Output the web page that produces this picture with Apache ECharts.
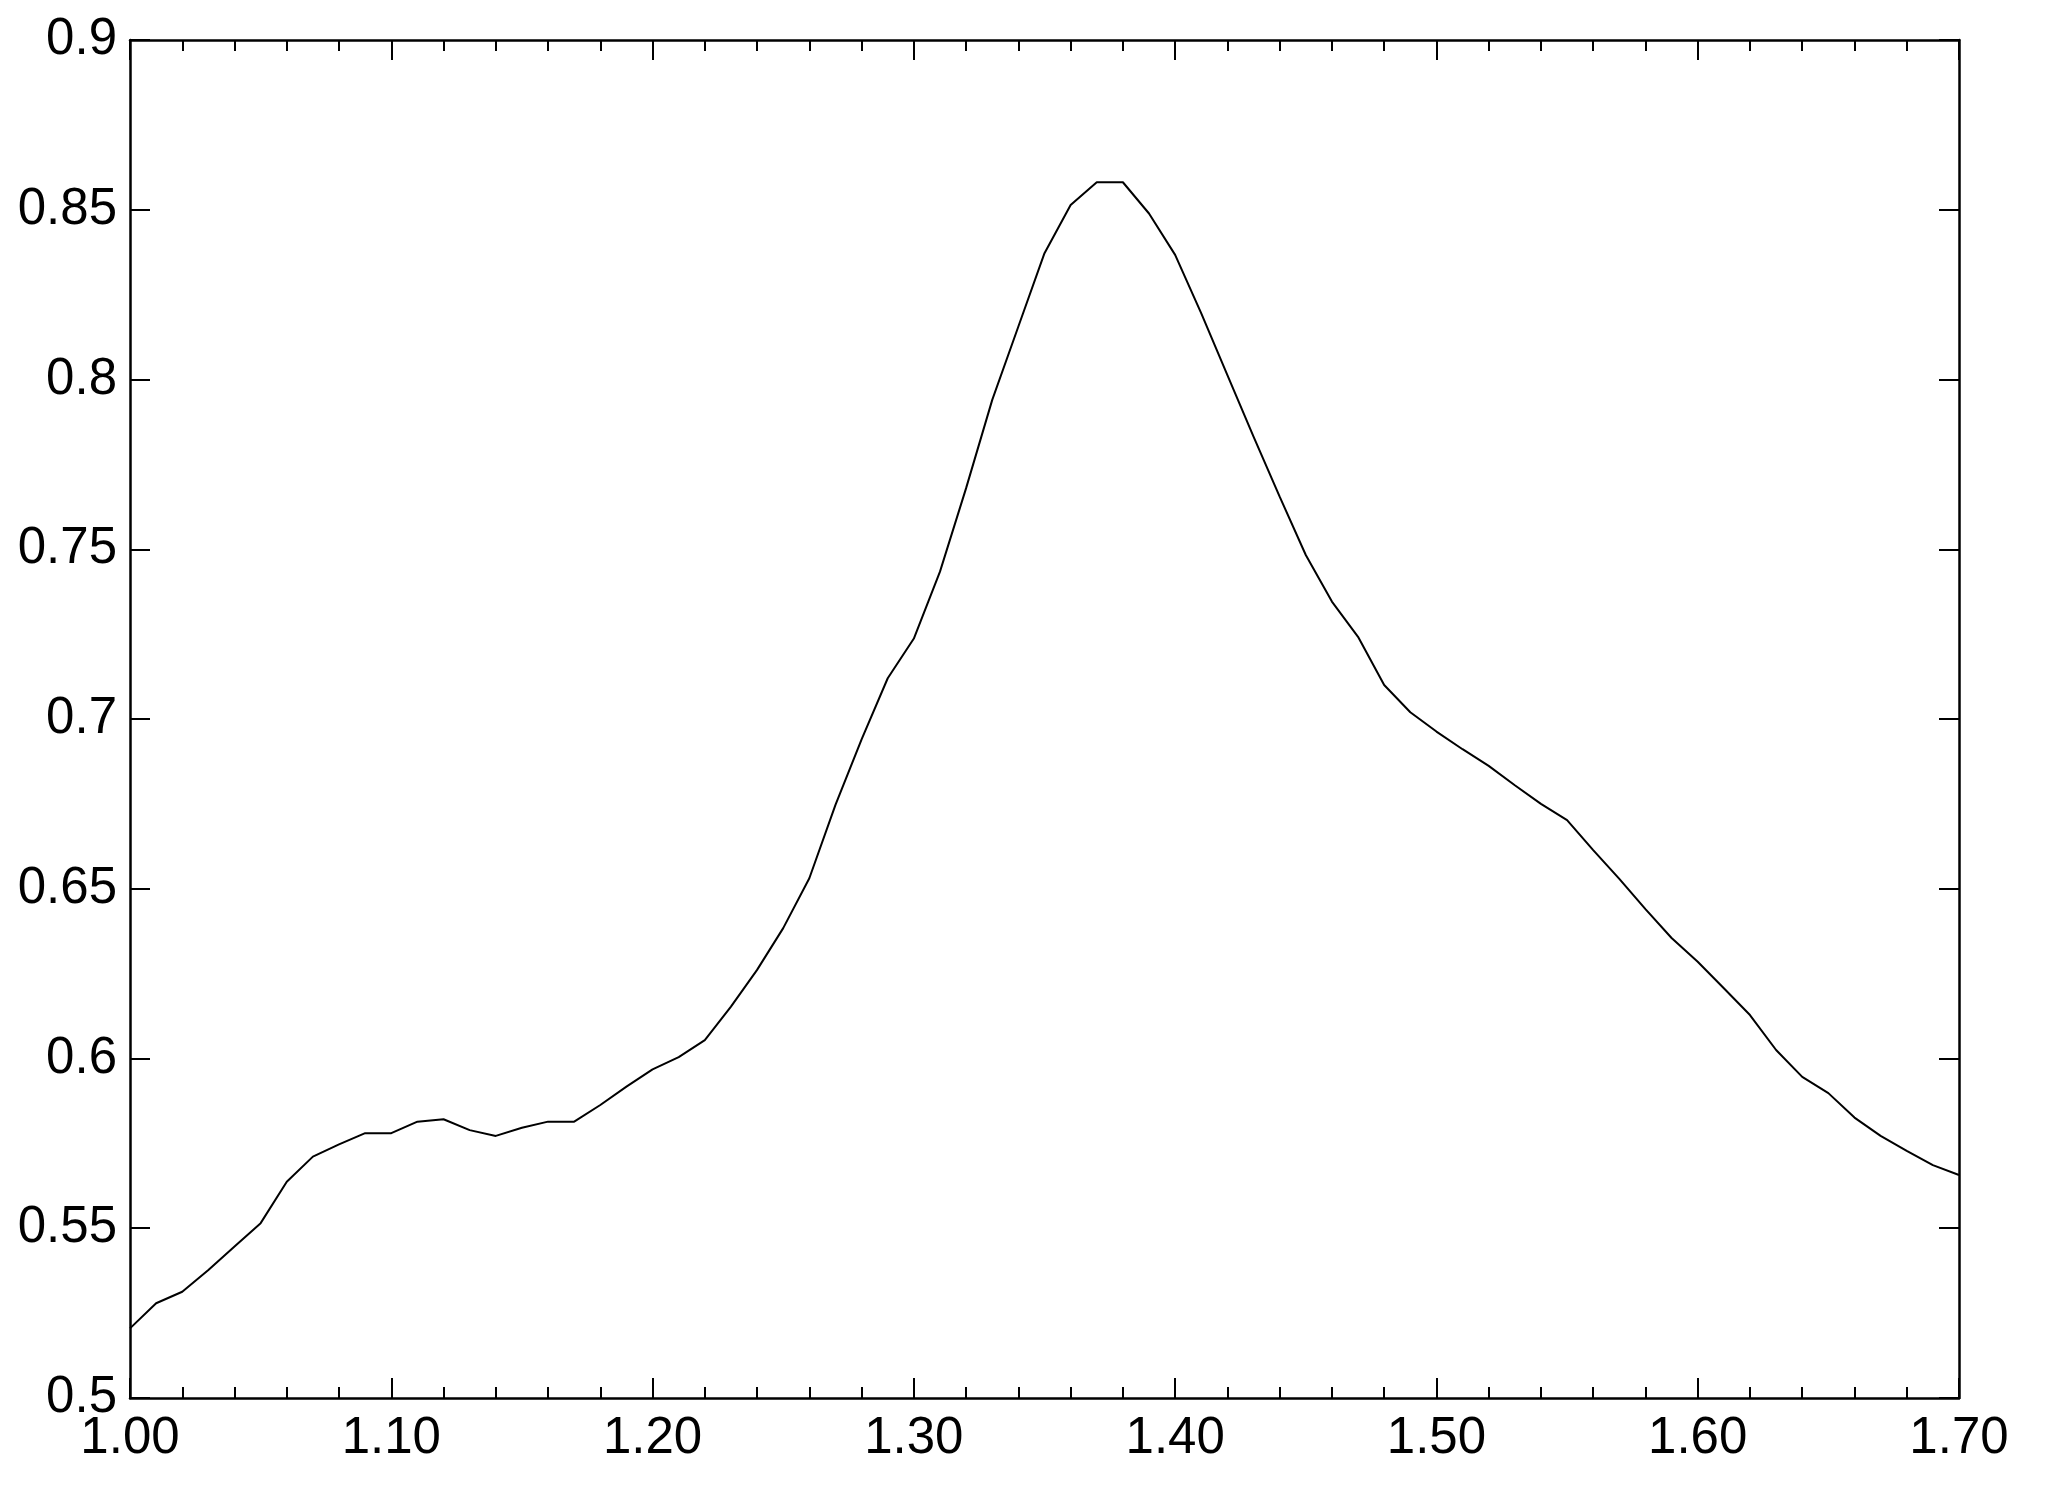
<!DOCTYPE html>
<html>
<head>
<meta charset="utf-8">
<title>Curve</title>
<script src="https://cdn.jsdelivr.net/npm/echarts@6/dist/echarts.min.js"></script>
<style>
  html, body { margin: 0; padding: 0; background: #fff; }
  #chart { width: 2046px; height: 1492px; }
</style>
</head>
<body>
<div id="chart"></div>
<script>
// x positions (step 0.01)
const xValues = [
  1.00, 1.01, 1.02, 1.03, 1.04, 1.05, 1.06, 1.07, 1.08, 1.09,
  1.10, 1.11, 1.12, 1.13, 1.14, 1.15, 1.16, 1.17, 1.18, 1.19,
  1.20, 1.21, 1.22, 1.23, 1.24, 1.25, 1.26, 1.27, 1.28, 1.29,
  1.30, 1.31, 1.32, 1.33, 1.34, 1.35, 1.36, 1.37, 1.38, 1.39,
  1.40, 1.41, 1.42, 1.43, 1.44, 1.45, 1.46, 1.47, 1.48, 1.49,
  1.50, 1.51, 1.52, 1.53, 1.54, 1.55, 1.56, 1.57, 1.58, 1.59,
  1.60, 1.61, 1.62, 1.63, 1.64, 1.65, 1.66, 1.67, 1.68, 1.69,
  1.70
];

const yValues = [
  0.5205, 0.5279, 0.5313, 0.5377, 0.5446, 0.5515, 0.5637, 0.5711, 0.5747, 0.5780,
  0.5780, 0.5814, 0.5821, 0.5789, 0.5772, 0.5796, 0.5814, 0.5814, 0.5863, 0.5917,
  0.5968, 0.6004, 0.6054, 0.6153, 0.6261, 0.6384, 0.6531, 0.6747, 0.6940, 0.7120,
  0.7237, 0.7434, 0.7680, 0.7940, 0.8156, 0.8372, 0.8514, 0.8581, 0.8581, 0.8489,
  0.8367, 0.8195, 0.8013, 0.7832, 0.7655, 0.7483, 0.7346, 0.7242, 0.7100, 0.7020,
  0.6963, 0.6911, 0.6862, 0.6805, 0.6750, 0.6702, 0.6614, 0.6529, 0.6440, 0.6355,
  0.6285, 0.6207, 0.6128, 0.6025, 0.5946, 0.5898, 0.5826, 0.5772, 0.5728, 0.5686,
  0.5657
];

const xMin = 1.0, xMax = 1.7, xStep = 0.1;
const yMin = 0.5, yMax = 0.9, yStep = 0.05;

let chartDom = document.getElementById('chart');
let myChart = echarts.init(chartDom);

const axisLine = { show: true, onZero: false, lineStyle: { color: '#000', width: 2.5 } };
const labelFont = { color: '#000', fontFamily: 'Liberation Sans, Arial, sans-serif', fontSize: 51 };

function xAxisCfg(pos, withLabels) {
  return {
    type: 'value',
    position: pos,
    min: xMin,
    max: xMax,
    interval: xStep,
    axisLine: axisLine,
    axisTick: { show: true, inside: true, length: 20, lineStyle: { color: '#000', width: 2 } },
    minorTick: { show: true, splitNumber: 5, length: 11, lineStyle: { color: '#000', width: 2 } },
    axisLabel: Object.assign({
      show: withLabels,
      margin: 15,
      formatter: function (v) { return v.toFixed(2); }
    }, labelFont),
    splitLine: { show: false },
    minorSplitLine: { show: false }
  };
}

function yAxisCfg(pos, withLabels) {
  return {
    type: 'value',
    position: pos,
    min: yMin,
    max: yMax,
    interval: yStep,
    axisLine: axisLine,
    axisTick: { show: true, inside: true, length: 20, lineStyle: { color: '#000', width: 2 } },
    axisLabel: Object.assign({ show: withLabels, margin: 13 }, labelFont),
    splitLine: { show: false }
  };
}

let option = {
  backgroundColor: '#fff',
  animation: false,
  grid: { left: 130, right: 87, top: 40, bottom: 94 },
  xAxis: [xAxisCfg('bottom', true), xAxisCfg('top', false)],
  yAxis: [yAxisCfg('left', true), yAxisCfg('right', false)],
  series: [
    {
      type: 'line',
      xAxisIndex: 0,
      yAxisIndex: 0,
      data: xValues.map((x, i) => [x, yValues[i]]),
      showSymbol: false,
      symbol: 'none',
      smooth: false,
      lineStyle: { color: '#000', width: 2 }
    }
  ]
};
myChart.setOption(option);
</script>
</body>
</html>
